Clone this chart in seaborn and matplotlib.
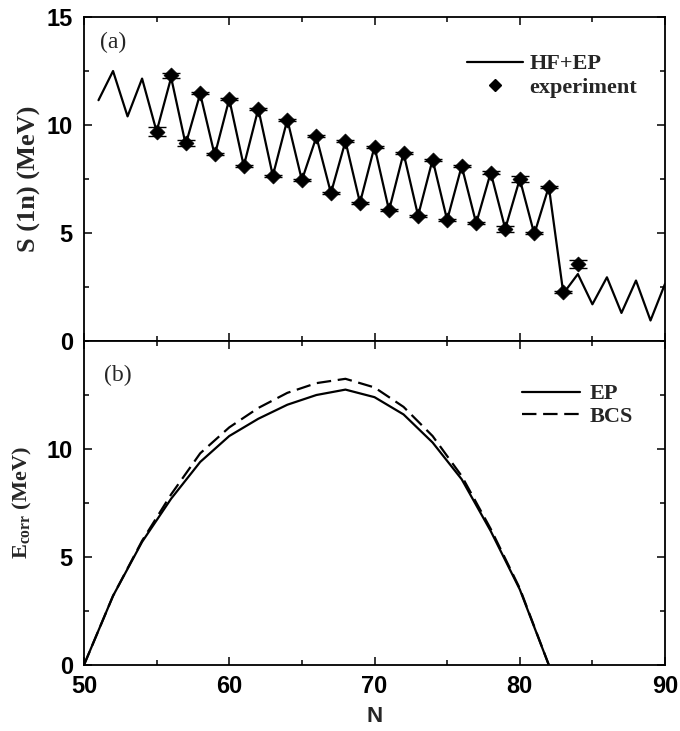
import matplotlib
matplotlib.use("Agg")
import matplotlib.pyplot as plt
import seaborn as sns
import pandas as pd
from matplotlib.lines import Line2D
from matplotlib.legend_handler import HandlerLine2D
from matplotlib.ticker import MultipleLocator

# ---------------- data ----------------
N_theory = list(range(51, 91))
S1n_hfep = [11.15, 12.5, 10.4, 12.15, 9.7, 12.2, 9.1, 11.45, 8.6, 11.2,
            8.1, 10.75, 7.65, 10.25, 7.45, 9.45, 6.85, 9.25, 6.4, 9.0,
            6.05, 8.7, 5.8, 8.4, 5.6, 8.1, 5.45, 7.8, 5.2, 7.5,
            4.95, 7.15, 2.2, 3.1, 1.7, 2.95, 1.3, 2.8, 0.95, 2.65]

N_exp = list(range(55, 85))
S1n_exp = [9.7, 12.3, 9.15, 11.5, 8.65, 11.2, 8.1, 10.75, 7.65, 10.25,
           7.45, 9.5, 6.85, 9.25, 6.4, 9.0, 6.05, 8.7, 5.8, 8.4,
           5.6, 8.1, 5.45, 7.8, 5.2, 7.5, 5.0, 7.15, 2.25, 3.55]
S1n_err = [0.2, 0.13, 0.14, 0.05, 0.05, 0.05, 0.05, 0.05, 0.05, 0.05,
           0.05, 0.05, 0.05, 0.05, 0.05, 0.05, 0.05, 0.05, 0.05, 0.05,
           0.05, 0.05, 0.05, 0.05, 0.14, 0.15, 0.05, 0.05, 0.05, 0.18]

N_corr = list(range(50, 83, 2))
Ecorr_ep = [0.0, 3.2, 5.7, 7.7, 9.4, 10.6, 11.4, 12.05, 12.5, 12.75,
            12.4, 11.6, 10.3, 8.6, 6.2, 3.5, 0.0]
Ecorr_bcs = [0.0, 3.2, 5.75, 7.9, 9.8, 11.0, 11.9, 12.6, 13.05, 13.25,
             12.85, 11.95, 10.6, 8.75, 6.3, 3.55, 0.0]

x_ticks = [50, 60, 70, 80, 90]

# ---------------- style ----------------
sns.set_theme(style="ticks")
plt.rcParams['font.family'] = ['Liberation Sans', 'DejaVu Sans']
plt.rcParams['axes.linewidth'] = 1.3
plt.rcParams['axes.edgecolor'] = 'black'

SERIF = ['Liberation Serif', 'DejaVu Serif']

fig = plt.figure(figsize=(6.8, 7.31), dpi=100)
ax1 = fig.add_axes([0.1235, 0.5335, 0.8545, 0.4432])
ax2 = fig.add_axes([0.1235, 0.0903, 0.8545, 0.4432])

df_th = pd.DataFrame({"N": N_theory, "S": S1n_hfep})
df_ex = pd.DataFrame({"N": N_exp, "S": S1n_exp, "err": S1n_err})
df_c = pd.DataFrame({"N": N_corr, "EP": Ecorr_ep, "BCS": Ecorr_bcs})

# ---- panel (a)
sns.lineplot(data=df_th, x="N", y="S", ax=ax1, color="black", lw=1.6)
ax1.errorbar(df_ex["N"], df_ex["S"], yerr=df_ex["err"], fmt="none",
             ecolor="black", elinewidth=1.0, capsize=6.5, capthick=1.0)
sns.scatterplot(data=df_ex, x="N", y="S", ax=ax1, marker="D", s=58,
                color="black", edgecolor="black", linewidth=0.5, zorder=5)

# ---- panel (b)
sns.lineplot(data=df_c, x="N", y="EP", ax=ax2, color="black", lw=1.6)
sns.lineplot(data=df_c, x="N", y="BCS", ax=ax2, color="black", lw=1.6,
             dashes=False)
ax2.lines[-1].set_dashes((6.5, 3))

for ax in (ax1, ax2):
    ax.set_xlim(50, 90)
    ax.set_ylim(0, 15)
    ax.xaxis.set_major_locator(MultipleLocator(10))
    ax.xaxis.set_minor_locator(MultipleLocator(5))
    ax.yaxis.set_major_locator(MultipleLocator(5))
    ax.yaxis.set_minor_locator(MultipleLocator(2.5))
    ax.tick_params(which="both", direction="in", top=True, right=True,
                   width=1.1, colors="black")
    ax.tick_params(which="major", length=6)
    ax.tick_params(which="minor", length=3.5)
    for sp in ax.spines.values():
        sp.set_visible(True)
        sp.set_linewidth(1.3)

TICKFONT = dict(fontsize=17, fontweight="bold")

ax1.set_xticks(x_ticks)
ax1.set_xticklabels([])
ax1.set_xlabel("")
ax1.set_yticks([0, 5, 10, 15])
ax1.set_yticklabels(["0", "5", "10", "15"], **TICKFONT)
ax1.set_ylabel("S (1n) (MeV)", family=SERIF, fontsize=19,
               fontweight="bold", labelpad=4)

ax2.set_xticks(x_ticks)
ax2.set_xticklabels([str(v) for v in x_ticks], **TICKFONT)
ax2.set_yticks([0, 5, 10])
ax2.set_yticklabels(["0", "5", "10"], **TICKFONT)
ax2.set_ylabel(r"E$_{\mathregular{corr}}$ (MeV)", family=SERIF, fontsize=16,
               fontweight="bold", labelpad=9)
ax2.set_xlabel("N", fontsize=16, fontweight="bold", labelpad=6)
ax1.tick_params(axis="y", pad=8)
ax2.tick_params(axis="y", pad=8)
ax2.tick_params(axis="x", pad=7)

ax1.text(0.028, 0.92, "(a)", transform=ax1.transAxes, family=SERIF,
         fontsize=17, va="center", ha="left")
ax2.text(0.035, 0.895, "(b)", transform=ax2.transAxes, family=SERIF,
         fontsize=17, va="center", ha="left")


class RightMarker(HandlerLine2D):
    def get_xdata(self, legend, xdescent, ydescent, width, height, fontsize):
        xdata, _ = super().get_xdata(legend, xdescent, ydescent, width,
                                     height, fontsize)
        return xdata, [-xdescent + width - 0.05 * fontsize]


h_line = Line2D([], [], color="black", lw=1.6)
h_exp = Line2D([], [], ls="none", marker="D", color="black", markersize=6)
ax1.legend([h_line, h_exp], ["HF+EP", "experiment"],
           loc="upper left", bbox_to_anchor=(0.640, 0.921),
           frameon=False, borderpad=0, handlelength=2.5,
           handletextpad=0.3, labelspacing=0.12,
           prop={"family": SERIF, "size": 16, "weight": "bold"},
           handler_map={h_exp: RightMarker(numpoints=1)})

h_ep = Line2D([], [], color="black", lw=1.6)
h_bcs = Line2D([], [], color="black", lw=1.6, dashes=(6.5, 3))
ax2.legend([h_ep, h_bcs], ["EP", "BCS"], loc="upper left",
           bbox_to_anchor=(0.735, 0.902), frameon=False, borderpad=0,
           handlelength=2.6, handletextpad=0.45, labelspacing=0.1,
           prop={"family": SERIF, "size": 16, "weight": "bold"})

fig.savefig("out.png", dpi=100)
